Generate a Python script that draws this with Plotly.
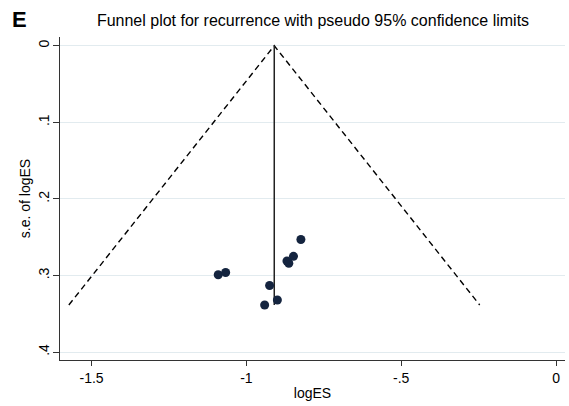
import plotly.graph_objects as go

# Study estimates (log effect size) and their standard errors
log_es = [-1.091, -1.067, -0.925, -0.941, -0.900, -0.824, -0.848, -0.869, -0.863]
se_log_es = [0.299, 0.296, 0.313, 0.3385, 0.332, 0.253, 0.275, 0.281, 0.284]
pooled = -0.910
x_ticks = [-1.5, -1, -0.5, 0]
x_tick_text = ["-1.5", "-1", "-.5", "0"]
y_ticks = [0, 0.1, 0.2, 0.3, 0.4]
y_tick_text = ["0", ".1", ".2", ".3", ".4"]

se_max = max(se_log_es)
z = 1.96

fig = go.Figure()
# Pseudo 95% CI funnel lines
fig.add_trace(go.Scatter(
    x=[pooled - z * se_max, pooled, pooled + z * se_max],
    y=[se_max, 0, se_max],
    mode="lines", line=dict(color="black", width=1.4, dash="6px,4px"),
    hoverinfo="skip", showlegend=False))
# Pooled estimate vertical line
fig.add_trace(go.Scatter(
    x=[pooled, pooled], y=[0, se_max],
    mode="lines", line=dict(color="#222222", width=1.5),
    hoverinfo="skip", showlegend=False))
# Studies
fig.add_trace(go.Scatter(
    x=log_es, y=se_log_es, mode="markers",
    marker=dict(color="#14243f", size=9),
    showlegend=False))

font_family = "Liberation Sans, Arial, sans-serif"
L, R, T, B = 60, 4, 37, 46
pw, ph = 569 - L - R, 406 - T - B
fig.update_layout(
    width=569, height=406,
    margin=dict(l=L, r=R, t=T, b=B),
    paper_bgcolor="white", plot_bgcolor="white",
    font=dict(family=font_family, color="black", size=14),
    title=dict(text="Funnel plot for recurrence with pseudo 95% confidence limits",
               x=313 / 569, xanchor="center", y=1 - 20 / 406, yanchor="middle",
               font=dict(size=16, family=font_family, color="black")),
    xaxis=dict(range=[-1.602, 0.029], tickmode="array", tickvals=x_ticks, ticktext=x_tick_text,
               showgrid=False, zeroline=False, showline=True, linecolor="#333333", linewidth=1.2,
               ticks="outside", ticklen=5, tickcolor="#333333",
               title=dict(text="logES", standoff=3, font=dict(size=14))),
    yaxis=dict(range=[0.4103, -0.0114], tickmode="array", tickvals=y_ticks, ticktext=y_tick_text,
               tickangle=-90, showgrid=True, gridcolor="#e2ebef", gridwidth=1.2,
               zeroline=False, showline=True, linecolor="#333333", linewidth=1.2,
               ticks="outside", ticklen=6, tickcolor="#333333", ticklabelstandoff=-2,
               title=dict(text="s.e. of logES", standoff=2, font=dict(size=14))),
    annotations=[dict(text="<b>E</b>", x=(10 - L) / pw, y=1 + (T - 19) / ph,
                      xref="paper", yref="paper",
                      xanchor="left", yanchor="middle", showarrow=False,
                      font=dict(size=22, family=font_family, color="black"))],
)

fig.write_html("out.html")
